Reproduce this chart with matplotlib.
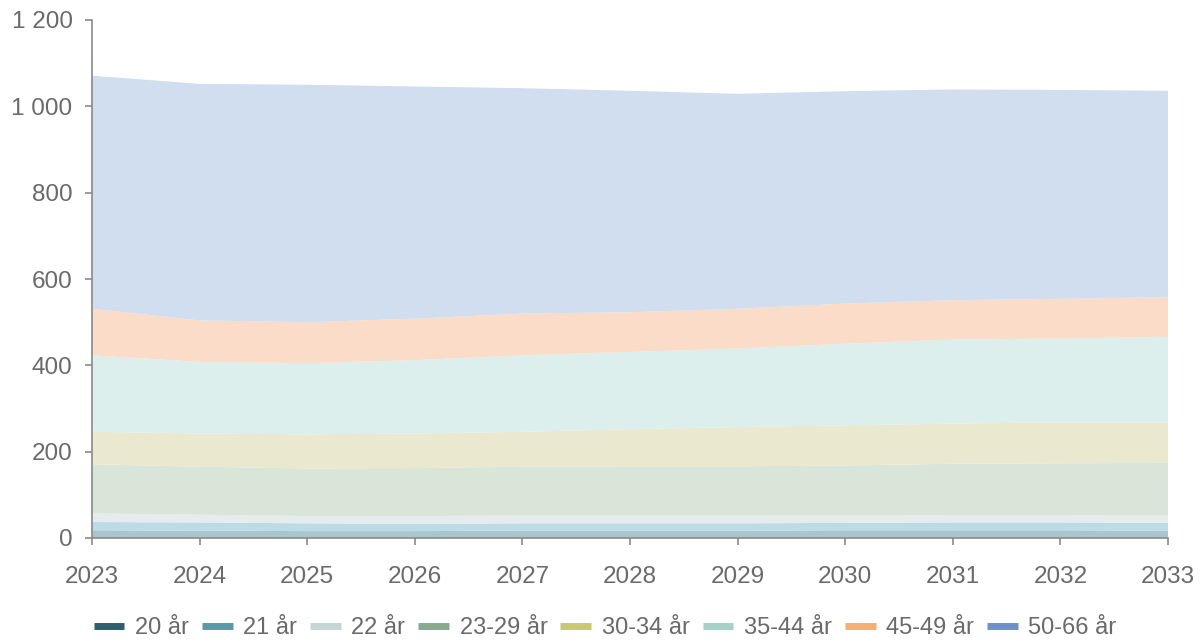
import numpy as np
import matplotlib.pyplot as plt
from matplotlib.lines import Line2D
from matplotlib.ticker import FuncFormatter

# Data (stacked values per age group)
years = [2023, 2024, 2025, 2026, 2027, 2028, 2029, 2030, 2031, 2032, 2033]
labels = ['20 år', '21 år', '22 år', '23-29 år', '30-34 år', '35-44 år', '45-49 år', '50-66 år']

age_20 = [18, 17, 16, 16, 17, 17, 17, 18, 18, 18, 17]
age_21 = [19, 19, 18, 17, 17, 17, 17, 17, 18, 18, 18]
age_22 = [20, 18, 17, 18, 18, 18, 18, 17, 17, 17, 17]
age_23_29 = [114, 111, 110, 111, 113, 114, 114, 116, 119, 120, 122]
age_30_34 = [75, 77, 79, 80, 81, 86, 91, 93, 93, 95, 94]
age_35_44 = [177, 166, 165, 170, 177, 179, 182, 189, 195, 194, 198]
age_45_49 = [108, 96, 95, 96, 97, 92, 92, 93, 91, 92, 92]
age_50_66 = [540, 548, 550, 538, 522, 513, 498, 492, 488, 484, 478]

series = [age_20, age_21, age_22, age_23_29, age_30_34, age_35_44, age_45_49, age_50_66]

line_colors = ['#2d5f6e', '#5e97a8', '#c5d5d5', '#8aaa90', '#c8c878', '#a6d0c8', '#f0b07a', '#7090c8']
fill_colors = ['#a9c6cf', '#bcdbe4', '#e6eced', '#d8e5d8', '#eae8cf', '#dcefec', '#fbdcc8', '#d0def0']

plt.rcParams['font.family'] = ['Liberation Sans', 'DejaVu Sans']

fig = plt.figure(figsize=(12.03, 6.43), dpi=100)
ax = fig.add_axes([92 / 1203, 1 - 538 / 643, (1168 - 92) / 1203, (538 - 20) / 643])

ax.stackplot(years, *series, colors=fill_colors, linewidth=0)

ax.set_xlim(2023, 2033)
ax.set_ylim(0, 1200)
ax.set_xticks(years)
ax.set_yticks([0, 200, 400, 600, 800, 1000, 1200])
ax.yaxis.set_major_formatter(FuncFormatter(lambda v, p: f'{int(v):,}'.replace(',', ' ')))

for s in ['top', 'right']:
    ax.spines[s].set_visible(False)
for s in ['left', 'bottom']:
    ax.spines[s].set_color('#8a8a8a')
    ax.spines[s].set_linewidth(1.2)

ax.tick_params(axis='both', colors='#8a8a8a', labelcolor='#6a6a6a', labelsize=17.5,
               length=5, width=1.2)
ax.tick_params(axis='x', pad=15)
ax.tick_params(axis='y', pad=9)

handles = [Line2D([0], [0], color=c, lw=5, solid_capstyle='butt') for c in line_colors]
fig.legend(handles, labels, loc='center', bbox_to_anchor=(0.503, 0.023), ncol=8,
           frameon=False, fontsize=17, handlelength=1.3, handletextpad=0.45,
           columnspacing=0.55, labelcolor='#6a6a6a')

fig.savefig('out.png', dpi=100)
